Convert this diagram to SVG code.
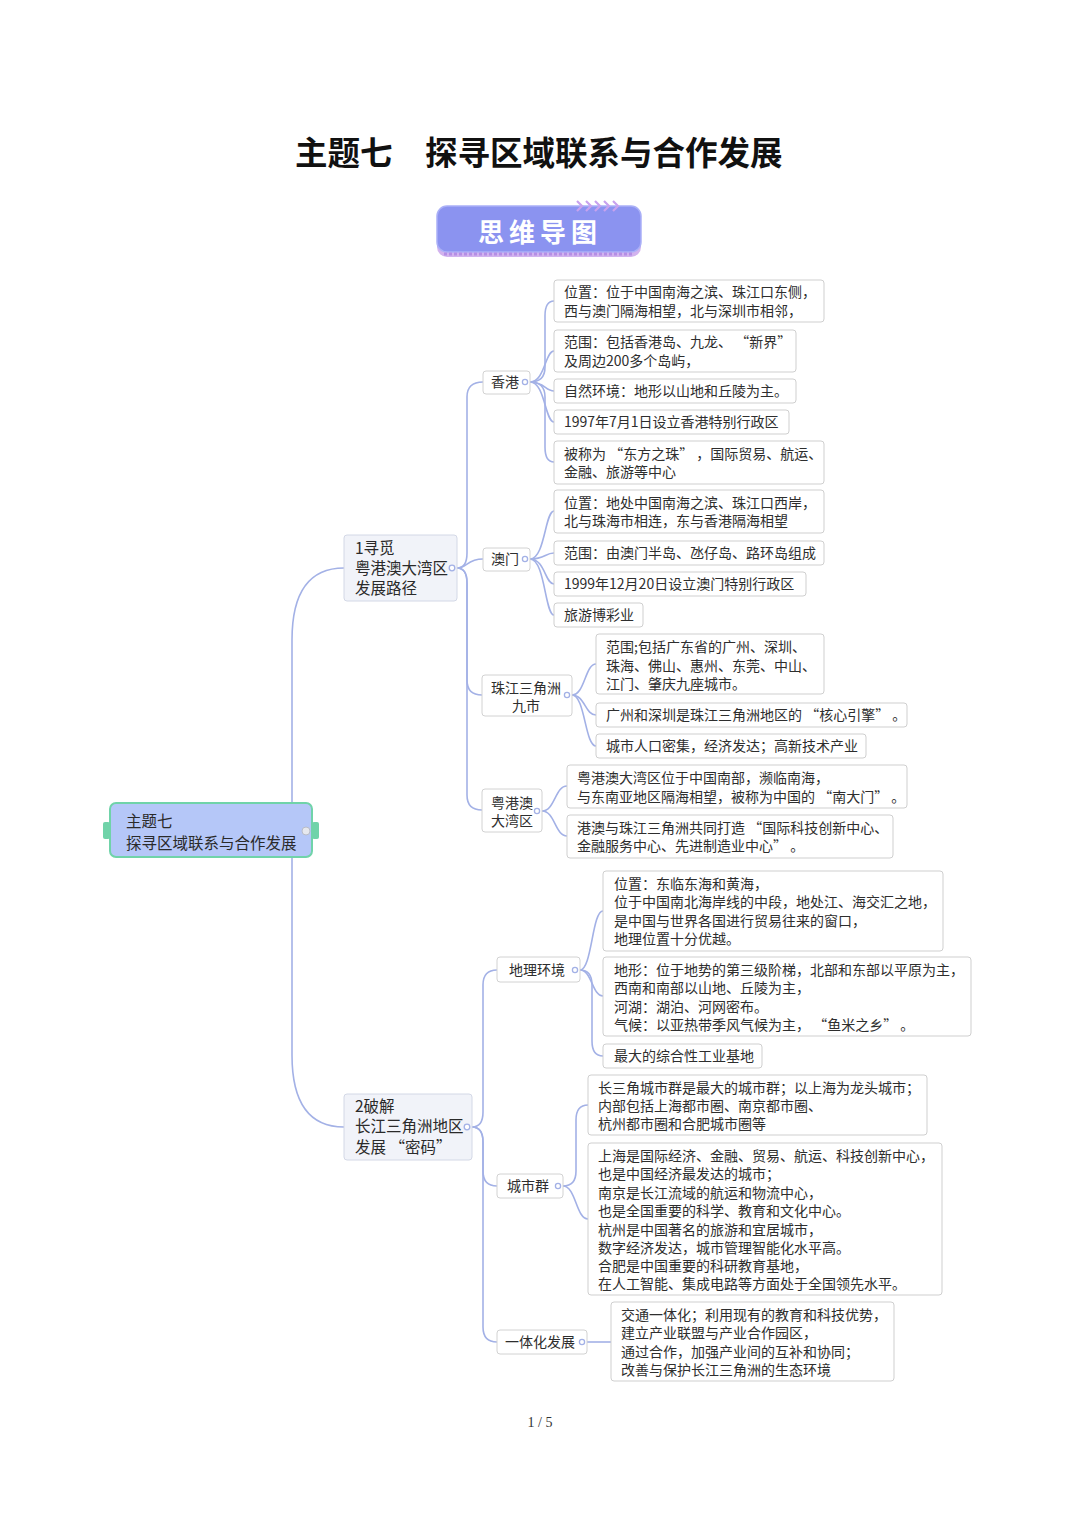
<svg xmlns="http://www.w3.org/2000/svg" width="1080" height="1527" viewBox="0 0 1080 1527">
<style>
text{font-family:"Noto Sans CJK SC","Noto Sans",sans-serif;fill:#2e2e2e}
.t{font-size:14px}
.m{font-size:15.5px;fill:#2a2a2a}
.s{font-size:14px;text-anchor:middle}
.leaf{fill:#fff;stroke:#cfcfcf;stroke-width:1}
.sub{fill:#fff;stroke:#d2d2d2;stroke-width:1}
.main{fill:#f1f3f9;stroke:#d3d8e6;stroke-width:1}
.c{fill:none;stroke:#a3b1e6;stroke-width:1.6}
.dot{fill:#fff;stroke:#a3b1e6;stroke-width:1.3}
</style>
<rect width="1080" height="1527" fill="#fff"/>
<text x="295" y="165" style="font-size:32.5px;font-weight:bold;fill:#111">主题七　探寻区域联系与合作发展</text>

<g id="banner">
<rect x="437" y="206" width="204" height="51" rx="10" fill="#d2b3ee"/>
<rect x="437" y="206" width="204" height="46" rx="10" fill="#8b93f0" stroke="#aab0f7" stroke-width="1.5"/>
<line x1="444" y1="254" x2="634" y2="254" stroke="#b48ee6" stroke-width="3" stroke-dasharray="3 2"/>
<g fill="none" stroke="#c8a2ee" stroke-width="2.2">
<polyline points="577,201 582,206 577,211"/>
<polyline points="586,201 591,206 586,211"/>
<polyline points="595,201 600,206 595,211"/>
<polyline points="604,201 609,206 604,211"/>
<polyline points="613,201 618,206 613,211"/>
</g>
<text x="540" y="242" text-anchor="middle" style="font-size:26px;font-weight:bold;fill:#fff;letter-spacing:5px">思维导图</text>
</g>

<g id="connectors">
<path class="c" d="M292,803 L292,640 Q292,568 344,568"/>
<path class="c" d="M292,857 L292,1055 Q292,1127 344,1127"/>
<path class="c" d="M457,568 Q467,568 467,553 L467,397 Q467,382 483,382"/>
<path class="c" d="M457,568 C467,568 467,559 483,559"/>
<path class="c" d="M457,568 Q467,568 467,583 L467,680 Q467,695 482,695"/>
<path class="c" d="M457,568 Q467,568 467,583 L467,795 Q467,810 482,810"/>
<path class="c" d="M530,382 Q545,382 545,367 L545,316 Q545,301 554,301"/>
<path class="c" d="M530,382 C545,382 545,351 554,351"/>
<path class="c" d="M530,382 C545,382 545,391 554,391"/>
<path class="c" d="M530,382 C545,382 545,422 554,422"/>
<path class="c" d="M530,382 Q545,382 545,397 L545,447 Q545,462 554,462"/>
<path class="c" d="M530,559 C545,559 545,511 554,511"/>
<path class="c" d="M530,559 C545,559 545,553 554,553"/>
<path class="c" d="M530,559 C545,559 545,584 554,584"/>
<path class="c" d="M530,559 C545,559 545,615 554,615"/>
<path class="c" d="M572,695 C585,695 585,664 596,664"/>
<path class="c" d="M572,695 C585,695 585,715 596,715"/>
<path class="c" d="M572,695 C585,695 585,746 596,746"/>
<path class="c" d="M542,811 C555,811 555,786 567,786"/>
<path class="c" d="M542,811 C555,811 555,836 567,836"/>
<path class="c" d="M472,1127 Q483,1127 483,1112 L483,985 Q483,970 497,970"/>
<path class="c" d="M472,1127 Q483,1127 483,1142 L483,1171 Q483,1186 497,1186"/>
<path class="c" d="M472,1127 Q483,1127 483,1142 L483,1327 Q483,1342 497,1342"/>
<path class="c" d="M580,970 C592,970 592,911 603,911"/>
<path class="c" d="M580,970 C592,970 592,996 603,996"/>
<path class="c" d="M580,970 Q592,970 592,985 L592,1041 Q592,1056 603,1056"/>
<path class="c" d="M563,1186 Q576,1186 576,1171 L576,1120 Q576,1105 588,1105"/>
<path class="c" d="M563,1186 C576,1186 576,1219 588,1219"/>
<path class="c" d="M587,1342 L611,1342"/>
</g>

<g id="root">
<rect x="103" y="822" width="7" height="17" rx="2" fill="#70d3a9"/>
<rect x="312" y="822" width="7" height="17" rx="2" fill="#70d3a9"/>
<rect x="110" y="803" width="202" height="54" rx="6" fill="#b5c7f8" stroke="#70d3a9" stroke-width="2"/>
<circle cx="306" cy="831" r="4" fill="#e6e8ee" stroke="#b8bcc8" stroke-width="1"/>
<text class="m" x="126" y="827">主题七</text>
<text class="m" x="126" y="849">探寻区域联系与合作发展</text>
</g>

<g id="n1">
<rect class="main" x="344" y="535" width="113" height="66" rx="3"/>
<text class="m" x="355" y="554">1寻觅</text>
<text class="m" x="355" y="574">粤港澳大湾区</text>
<text class="m" x="355" y="594">发展路径</text>
<circle class="dot" cx="452" cy="568" r="2.8"/>
</g>

<g id="hk">
<rect class="sub" x="483" y="371" width="47" height="23" rx="3"/>
<text class="s" x="505" y="387">香港</text>
<circle class="dot" cx="525" cy="382" r="2.6"/>
</g>
<g id="hk1"><rect class="leaf" x="554" y="280" width="270" height="42" rx="3"/>
<text class="t" x="564" y="297">位置：位于中国南海之滨、珠江口东侧，</text>
<text class="t" x="564" y="316">西与澳门隔海相望，北与深圳市相邻，</text></g>
<g id="hk2"><rect class="leaf" x="554" y="330" width="242" height="42" rx="3"/>
<text class="t" x="564" y="347">范围：包括香港岛、九龙、 “新界”</text>
<text class="t" x="564" y="366">及周边200多个岛屿，</text></g>
<g id="hk3"><rect class="leaf" x="554" y="379" width="242" height="24" rx="3"/>
<text class="t" x="564" y="396">自然环境：地形以山地和丘陵为主。</text></g>
<g id="hk4"><rect class="leaf" x="554" y="410" width="235" height="24" rx="3"/>
<text class="t" x="564" y="427">1997年7月1日设立香港特别行政区</text></g>
<g id="hk5"><rect class="leaf" x="554" y="441" width="270" height="43" rx="3"/>
<text class="t" x="564" y="459">被称为 “东方之珠” ，国际贸易、航运、</text>
<text class="t" x="564" y="477">金融、旅游等中心</text></g>

<g id="mo">
<rect class="sub" x="483" y="548" width="47" height="23" rx="3"/>
<text class="s" x="505" y="564">澳门</text>
<circle class="dot" cx="525" cy="559" r="2.6"/>
</g>
<g id="mo1"><rect class="leaf" x="554" y="490" width="270" height="43" rx="3"/>
<text class="t" x="564" y="508">位置：地处中国南海之滨、珠江口西岸，</text>
<text class="t" x="564" y="526">北与珠海市相连，东与香港隔海相望</text></g>
<g id="mo2"><rect class="leaf" x="554" y="541" width="270" height="24" rx="3"/>
<text class="t" x="564" y="558">范围：由澳门半岛、氹仔岛、路环岛组成</text></g>
<g id="mo3"><rect class="leaf" x="554" y="572" width="252" height="24" rx="3"/>
<text class="t" x="564" y="589">1999年12月20日设立澳门特别行政区</text></g>
<g id="mo4"><rect class="leaf" x="554" y="603" width="89" height="24" rx="3"/>
<text class="t" x="564" y="620">旅游博彩业</text></g>

<g id="prd">
<rect class="sub" x="482" y="675" width="90" height="41" rx="3"/>
<text class="s" x="526" y="693">珠江三角洲</text>
<text class="s" x="526" y="711">九市</text>
<circle class="dot" cx="567" cy="695" r="2.6"/>
</g>
<g id="prd1"><rect class="leaf" x="596" y="634" width="228" height="60" rx="3"/>
<text class="t" x="606" y="652">范围;包括广东省的广州、深圳、</text>
<text class="t" x="606" y="671">珠海、佛山、惠州、东莞、中山、</text>
<text class="t" x="606" y="689">江门、肇庆九座城市。</text></g>
<g id="prd2"><rect class="leaf" x="596" y="703" width="311" height="24" rx="3"/>
<text class="t" x="606" y="720">广州和深圳是珠江三角洲地区的 “核心引擎” 。</text></g>
<g id="prd3"><rect class="leaf" x="596" y="734" width="270" height="24" rx="3"/>
<text class="t" x="606" y="751">城市人口密集，经济发达；高新技术产业</text></g>

<g id="bay">
<rect class="sub" x="482" y="789" width="60" height="43" rx="3"/>
<text class="s" x="512" y="808">粤港澳</text>
<text class="s" x="512" y="826">大湾区</text>
<circle class="dot" cx="537" cy="811" r="2.6"/>
</g>
<g id="bay1"><rect class="leaf" x="567" y="765" width="340" height="43" rx="3"/>
<text class="t" x="577" y="783">粤港澳大湾区位于中国南部，濒临南海，</text>
<text class="t" x="577" y="802">与东南亚地区隔海相望，被称为中国的 “南大门” 。</text></g>
<g id="bay2"><rect class="leaf" x="567" y="815" width="326" height="43" rx="3"/>
<text class="t" x="577" y="833">港澳与珠江三角洲共同打造 “国际科技创新中心、</text>
<text class="t" x="577" y="851">金融服务中心、先进制造业中心” 。</text></g>

<g id="n2">
<rect class="main" x="344" y="1094" width="128" height="66" rx="3"/>
<text class="m" x="355" y="1112">2破解</text>
<text class="m" x="355" y="1132">长江三角洲地区</text>
<text class="m" x="355" y="1153">发展 “密码”</text>
<circle class="dot" cx="467" cy="1127" r="2.8"/>
</g>

<g id="geo">
<rect class="sub" x="497" y="957" width="83" height="25" rx="3"/>
<text class="s" x="537" y="975">地理环境</text>
<circle class="dot" cx="575" cy="970" r="2.6"/>
</g>
<g id="geo1"><rect class="leaf" x="603" y="871" width="340" height="80" rx="3"/>
<text class="t" x="614" y="889">位置：东临东海和黄海，</text>
<text class="t" x="614" y="907">位于中国南北海岸线的中段，地处江、海交汇之地，</text>
<text class="t" x="614" y="926">是中国与世界各国进行贸易往来的窗口，</text>
<text class="t" x="614" y="944">地理位置十分优越。</text></g>
<g id="geo2"><rect class="leaf" x="603" y="957" width="368" height="79" rx="3"/>
<text class="t" x="614" y="975">地形：位于地势的第三级阶梯，北部和东部以平原为主，</text>
<text class="t" x="614" y="993">西南和南部以山地、丘陵为主，</text>
<text class="t" x="614" y="1012">河湖：湖泊、河网密布。</text>
<text class="t" x="614" y="1030">气候：以亚热带季风气候为主， “鱼米之乡” 。</text></g>
<g id="geo3"><rect class="leaf" x="603" y="1044" width="159" height="24" rx="3"/>
<text class="t" x="614" y="1061">最大的综合性工业基地</text></g>

<g id="city">
<rect class="sub" x="497" y="1174" width="66" height="24" rx="3"/>
<text class="s" x="528" y="1191">城市群</text>
<circle class="dot" cx="558" cy="1186" r="2.6"/>
</g>
<g id="city1"><rect class="leaf" x="588" y="1075" width="339" height="60" rx="3"/>
<text class="t" x="598" y="1093">长三角城市群是最大的城市群；以上海为龙头城市；</text>
<text class="t" x="598" y="1111">内部包括上海都市圈、南京都市圈、</text>
<text class="t" x="598" y="1129">杭州都市圈和合肥城市圈等</text></g>
<g id="city2"><rect class="leaf" x="588" y="1143" width="354" height="152" rx="3"/>
<text class="t" x="598" y="1161">上海是国际经济、金融、贸易、航运、科技创新中心，</text>
<text class="t" x="598" y="1179">也是中国经济最发达的城市；</text>
<text class="t" x="598" y="1198">南京是长江流域的航运和物流中心，</text>
<text class="t" x="598" y="1216">也是全国重要的科学、教育和文化中心。</text>
<text class="t" x="598" y="1235">杭州是中国著名的旅游和宜居城市，</text>
<text class="t" x="598" y="1253">数字经济发达，城市管理智能化水平高。</text>
<text class="t" x="598" y="1271">合肥是中国重要的科研教育基地，</text>
<text class="t" x="598" y="1289">在人工智能、集成电路等方面处于全国领先水平。</text></g>

<g id="integ">
<rect class="sub" x="497" y="1330" width="90" height="24" rx="3"/>
<text class="s" x="540" y="1347">一体化发展</text>
<circle class="dot" cx="582" cy="1342" r="2.6"/>
</g>
<g id="integ1"><rect class="leaf" x="611" y="1302" width="283" height="79" rx="3"/>
<text class="t" x="621" y="1320">交通一体化；利用现有的教育和科技优势，</text>
<text class="t" x="621" y="1338">建立产业联盟与产业合作园区，</text>
<text class="t" x="621" y="1357">通过合作，加强产业间的互补和协同；</text>
<text class="t" x="621" y="1375">改善与保护长江三角洲的生态环境</text></g>

<text x="540" y="1427" text-anchor="middle" style="font-family:'Liberation Serif',serif;font-size:14px;fill:#333">1 / 5</text>
</svg>
